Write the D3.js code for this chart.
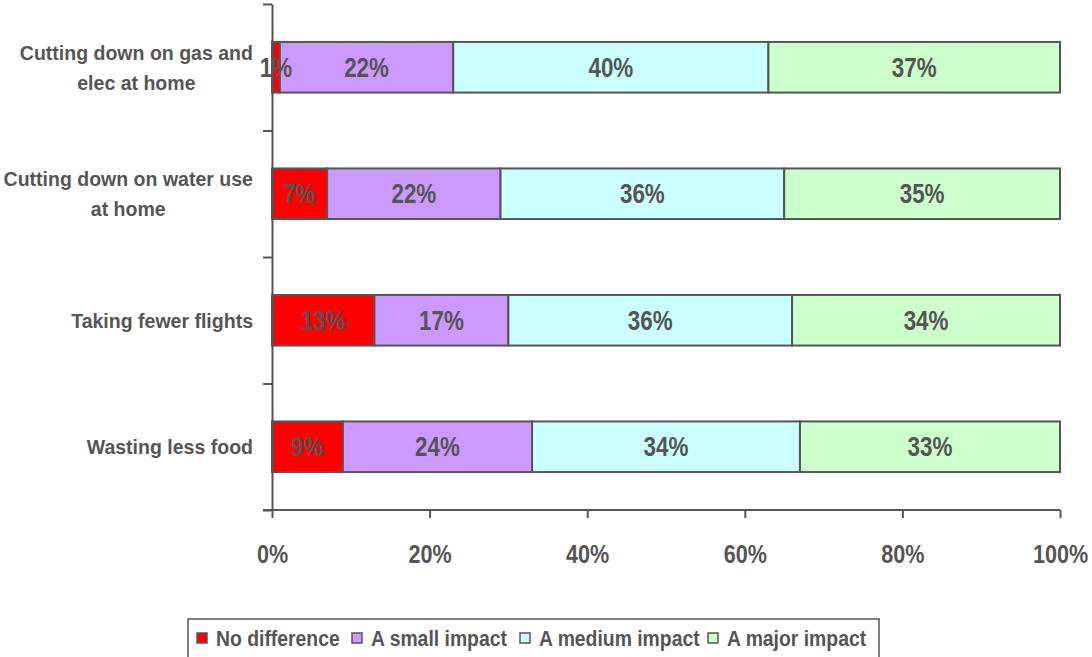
<!DOCTYPE html>
<html>
<head>
<meta charset="utf-8">
<script src="https://cdn.jsdelivr.net/npm/d3@7"></script>
<style>
  html, body { margin: 0; padding: 0; background: #fff; }
  svg { display: block; }
  text { font-family: "Liberation Sans Narrow", "Arial Narrow", "Liberation Sans", sans-serif; font-weight: bold; fill: #555; }
</style>
</head>
<body>
<svg id="chart" width="1092" height="657"></svg>
<script>
// Categories (top to bottom), each may wrap to two lines
const categories = [
  "Cutting down on gas and elec at home",
  "Cutting down on water use at home",
  "Taking fewer flights",
  "Wasting less food"
];
const categoryLines = [
  ["Cutting down on gas and", "elec at home"],
  ["Cutting down on water use", "at home"],
  ["Taking fewer flights"],
  ["Wasting less food"]
];

// Response shares (%) per category
const seriesNames = ["No difference", "A small impact", "A medium impact", "A major impact"];
const noDifference = [1, 7, 13, 9];
const smallImpact  = [22, 22, 17, 24];
const mediumImpact = [40, 36, 36, 34];
const majorImpact  = [37, 35, 34, 33];
const seriesColors = ["#FF0000", "#CC99FF", "#CCFFFF", "#CCFFCC"];

const xTicks = [0, 20, 40, 60, 80, 100];

const svg = d3.select("#chart");
const plotLeft = 272, plotRight = 1060, plotTop = 4, plotBottom = 510;
const ink = "#555";

// condensed lettering: draw text at (px, py) squeezed horizontally by sx
const squeeze = (sel, px, py, sx) =>
  sel.attr("x", 0).attr("y", 0).attr("transform", `translate(${px},${py}) scale(${sx},1)`);

const x = d3.scaleLinear().domain([0, 100]).range([plotLeft, plotRight]);
const y = d3.scaleBand().domain(categories).range([plotTop, plotBottom])
  .paddingInner(0.6).paddingOuter(0.3);

// Stack the four series
const rows = categories.map((c, i) => ({
  cat: c,
  "No difference": noDifference[i],
  "A small impact": smallImpact[i],
  "A medium impact": mediumImpact[i],
  "A major impact": majorImpact[i]
}));
const stacked = d3.stack().keys(seriesNames)(rows);

const g = svg.append("g");
stacked.forEach((layer, si) => {
  g.append("g").selectAll("rect").data(layer).join("rect")
    .attr("x", d => x(d[0]))
    .attr("y", d => y(d.data.cat))
    .attr("width", d => x(d[1]) - x(d[0]))
    .attr("height", y.bandwidth())
    .attr("fill", seriesColors[si])
    .attr("stroke", ink)
    .attr("stroke-width", 2);
});
stacked.forEach(layer => {
  g.append("g").selectAll("text").data(layer).join("text")
    .each(function (d) {
      squeeze(d3.select(this), (x(d[0]) + x(d[1])) / 2, y(d.data.cat) + y.bandwidth() / 2, 0.83);
    })
    .attr("dy", "0.36em")
    .attr("text-anchor", "middle")
    .attr("font-size", 27)
    .text(d => (d[1] - d[0]) + "%");
});

// Y axis with ticks at category boundaries
const yEdges = d3.scaleLinear().domain([0, categories.length]).range([plotTop, plotBottom]);
const yAxis = svg.append("g").attr("transform", `translate(${plotLeft},0)`)
  .call(d3.axisLeft(yEdges).tickValues(d3.range(categories.length + 1)).tickFormat("").tickSize(9).tickSizeOuter(0));
yAxis.selectAll("path, line").attr("stroke", ink).attr("stroke-width", 2);

// Category labels: single lines right-aligned; wrapped lines centred on the wider first line
const labelRight = 253, labelSize = 21, labelSx = 0.93;
categoryLines.forEach((lines, i) => {
  const cy = y(categories[i]) + y.bandwidth() / 2;
  if (lines.length === 1) {
    const t = svg.append("text")
      .attr("font-size", labelSize)
      .attr("text-anchor", "end")
      .attr("dy", "0.36em")
      .text(lines[0]);
    squeeze(t, labelRight, cy, labelSx);
  } else {
    const tmp = svg.append("text").attr("font-size", labelSize).text(lines[0]);
    const w = tmp.node().getComputedTextLength() * labelSx;
    tmp.remove();
    const cx = labelRight - w / 2;
    lines.forEach((ln, k) => {
      const t = svg.append("text")
        .attr("font-size", labelSize)
        .attr("text-anchor", "middle")
        .attr("dy", "0.36em")
        .text(ln);
      squeeze(t, cx, cy + (k - 0.5) * 30, labelSx);
    });
  }
});

// X axis
const xAxis = svg.append("g").attr("transform", `translate(0,${plotBottom})`)
  .call(d3.axisBottom(x).tickValues(xTicks).tickFormat(d => d + "%").tickSize(8).tickSizeOuter(0));
xAxis.selectAll("path, line").attr("stroke", ink).attr("stroke-width", 2);
xAxis.select(".domain").attr("d", `M${plotLeft - 9},0H${plotRight}`);
xAxis.selectAll("text")
  .attr("dy", 0)
  .attr("font-size", 26)
  .attr("font-family", null)
  .attr("fill", ink)
  .each(function () { squeeze(d3.select(this), 0, 53, 0.83); });

// Legend
const legend = svg.append("g");
legend.append("rect")
  .attr("x", 188).attr("y", 619).attr("width", 691).attr("height", 60)
  .attr("fill", "#fff").attr("stroke", ink).attr("stroke-width", 1.5);
const legendX = [197, 352, 520, 708];
seriesNames.forEach((name, i) => {
  legend.append("rect")
    .attr("x", legendX[i]).attr("y", 633).attr("width", 10).attr("height", 10)
    .attr("fill", seriesColors[i]).attr("stroke", ink).attr("stroke-width", 1.5);
  const t = legend.append("text")
    .attr("dy", "0.36em")
    .attr("font-size", 22)
    .text(name);
  squeeze(t, legendX[i] + 19, 638, 0.88);
});
</script>
</body>
</html>
